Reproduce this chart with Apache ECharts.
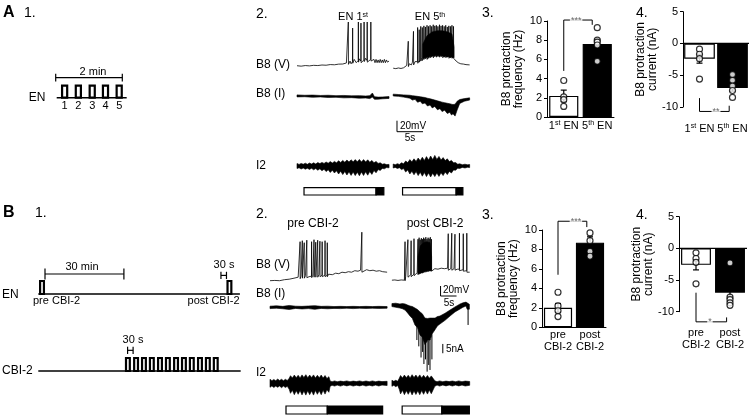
<!DOCTYPE html>
<html><head><meta charset="utf-8">
<script src="https://cdn.jsdelivr.net/npm/echarts@6/dist/echarts.min.js"></script>
<style>html,body{margin:0;padding:0;background:#fff}#c{width:750px;height:416px}</style>
</head><body><div id="c"></div>
<script>
const FONT = 'Liberation Sans, Arial, Helvetica, sans-serif';

// ===== Bar chart values =====
const catsEN  = ['1st EN', '5th EN'];
const catsCBI = ['pre\nCBI-2', 'post\nCBI-2'];
const ticksFreq = [0, 10, 2];
const ticksCurr = [-10, 5, 5];

const freqEN_mean = [2.2, 7.6];
const freqEN_sem  = [0.6, 0.5];
const freqEN_1st  = [3.8, 2.1, 1.8, 1.1];
const freqEN_5th  = [9.3, 8.0, 7.8, 7.5, 5.8];

const currEN_mean = [-2.4, -7.0];
const currEN_sem  = [0.7, 0.5];
const currEN_1st  = [-0.9, -1.7, -2.4, -5.6];
const currEN_5th  = [-4.9, -5.8, -6.7, -7.4, -8.5];

const freqCBI_mean = [2.0, 8.7];
const freqCBI_sem  = [0.45, 0.6];
const freqCBI_pre  = [3.6, 2.2, 1.7, 1.1];
const freqCBI_post = [9.7, 8.9, 7.8, 7.3];

const currCBI_mean = [-2.6, -7.0];
const currCBI_sem  = [0.8, 0.6];
const currCBI_pre  = [-0.7, -1.6, -2.2, -5.6];
const currCBI_post = [-2.3, -7.7, -8.1, -8.6, -9.0];

const sigFreqEN  = [[0, 4.8], [0, 10.1], [0.85, 10.1], [0.85, 9.6]];
const sigCurrEN  = [[0, -8.6], [0, -10.7], [0.9, -10.7], [0.9, -9.8]];
const sigFreqCBI = [[0, 5.4], [0, 10.9], [0.9, 10.9], [0.9, 10.3]];
const sigCurrCBI = [[0, -7.0], [0, -11.6], [0.9, -11.6], [0.9, -10.9]];
const sigTextFreqEN  = ['***', 0.37, 10.1];
const sigTextCurrEN  = ['**', 0.5, -10.7];
const sigTextFreqCBI = ['***', 0.56, 10.9];
const sigTextCurrCBI = ['*', 0.41, -11.6];

// ===== Traces A (time s, mV / nA / a.u.) =====
const avBase1 = [[0,0.5],[0.8,-0.3],[1.6,0.8],[2.4,0.2],[3.2,1.2],[4,0.8],[4.8,1.8],[5.6,1.4],[6.4,2.6],[7.2,2.2],[8,3.4],[8.8,3.6],[9.5,5.5],[10.2,9],[10.4,4],[11,12],[11.4,6],[12,13],[12.6,7],[13.2,14],[13.8,8],
  [14.4,12],[14.6,6],[14.8,12],[15,6],[15.2,12],[15.4,6],[15.6,11],[15.8,6],[16,12],[16.2,6],[16.4,11],[16.6,6],[16.8,12],[17,6],[17.2,11],[17.4,7],[17.7,9]];
const avSpk1 = [[9.87,6,80],[10.7,8,69],[11.8,10,80],[12.3,9,78],[12.9,11,80],[13.5,10,80],[14.2,12,80]];
const avBase2 = [[18.5,-4],[19,-4.8],[19.5,-3.6],[20,-4.5],[20.5,-3.2],[20.8,-2],[21.1,1],[21.6,4],[22,2],[22.2,7],[22.7,8],[23,10],[23.5,13],[24,15],[24.5,17],[25,18],[25.5,20],[26,21],[26.5,21],[27,20],[27.5,21],[28,20],[28.5,19],[29,19],[29.5,18],[30,18],[30.35,14],[30.6,9],[31,6],[31.5,4],[32,3.5],[32.5,2.5],[33.2,2]];
const avSpk2 = [[21.4,2,45],[22.4,5,63],[23.2,8,70],[23.5,10,66],[23.8,12,72],[24.1,13,70],[24.4,15,73],[24.7,16,71],[25,15,74],[25.3,17,72],[25.6,18,74],[25.9,19,72],[26.2,18,75],[26.5,20,73],[26.8,19,74],[27.1,20,72],[27.4,19,75],[27.7,20,73],[28,18,74],[28.3,19,72],[28.6,18,74],[28.9,19,71],[29.2,17,73],[29.5,18,72],[29.8,17,74],[30.1,17,72]];
const avBody2 = [[24.2,14,40],[25,16,55],[26,18,62],[27,19,64],[28,18,64],[29,17,62],[29.8,16,58],[30.2,15,35]];
const aiEnv1 = [[0,-0.5,0.6],[1.5,-0.4,0.4],[3,-0.7,0.5],[4.5,-0.5,0.3],[6,-0.8,0.4],[7.5,-0.7,0.2],[9,-1,0.3],[10.5,-0.9,0.1],[12,-1.2,0.2],[13.2,-1.1,0],[14,-1.4,0.2],[14.5,-0.6,1.6],[14.9,-1.8,-0.4],[15.6,-1.7,-0.6],[16.5,-1.5,-0.5],[17.7,-1.3,-0.3]];
const aiEnv2 = [[18.5,0,1],[19.5,-0.2,0.8],[20.5,-0.6,0.6],[21.7,-1.2,0.4],[22.2,-2.2,0.2],[22.7,-1.8,0],[23.2,-3.4,-0.2],[23.7,-2.8,-0.4],[24.1,-4.2,-0.6],[24.6,-3.8,-0.8],[25.1,-5.4,-1.2],[25.6,-4.8,-1.5],[26,-6.4,-1.8],[26.5,-5.6,-2.2],[27,-7.4,-2.6],[27.5,-6.8,-3],[27.9,-8.4,-3.3],[28.4,-7.6,-3.6],[28.9,-9.4,-3.9],[29.4,-8.8,-4.2],[29.7,-10.2,-4.4],[30,-9.6,-4.6],[30.4,-10.8,-4.4],[30.8,-7.5,-2.8],[31.3,-4,-1.9],[32.2,-2.8,-1.4],[33.2,-2.2,-1]];
const ai2Env1 = [[0,-2.5,2.5],[0.4,-1.8,1.6],[0.8,-3,2.6],[1.2,-2,1.8],[1.6,-3.2,2.8],[2,-2.2,1.7],[2.4,-3.4,3],[2.8,-2.3,2],[3.2,-3.8,3.2],[3.6,-2.5,2],[4,-4.2,3.4],[4.4,-2.8,2.4],[4.8,-4.8,3.6],[5.2,-3.2,2.6],[5.6,-5.6,4],[6,-3.8,2.8],[6.4,-6.5,4.4],[6.8,-4.2,3],[7.2,-7,4.6],[7.6,-4.8,3.2],[8,-8,5.2],[8.4,-5.2,3.6],[8.8,-8.6,5.6],[9.2,-5.5,3.8],[9.6,-9,6],[10,-5.8,4],[10.4,-9.4,6.2],[10.8,-6,4.2],[11.2,-9.6,6.4],[11.6,-6.2,4.2],[12,-9.8,6.6],[12.4,-6,4],[12.8,-9.5,6.4],[13.2,-5.8,4],[13.6,-9.2,6.2],[14,-5.5,3.8],[14.4,-8.4,5.6],[14.8,-4.6,3.2],[15.2,-6.8,4.6],[15.6,-3.6,2.6],[16,-4.4,3.2],[16.4,-2.4,1.8],[16.8,-2.8,2.2],[17.2,-1.6,1.4],[17.7,-1.8,1.6]];
const ai2Env2 = [[18.5,-2,2],[18.9,-1.4,1.3],[19.3,-2.4,2.3],[19.7,-1.8,1.6],[20.1,-3.6,3.2],[20.5,-2.6,2.2],[20.9,-6,5],[21.3,-4,3.4],[21.7,-8,6.4],[22.1,-5.2,4.2],[22.5,-8.8,7.2],[22.9,-5.6,4.6],[23.3,-9.6,8],[23.7,-6.2,5.2],[24.1,-10.2,8.8],[24.5,-6.6,5.6],[24.9,-10.6,9.4],[25.3,-7,6],[25.7,-11,10],[26.1,-7.2,6.4],[26.5,-10.6,10.6],[26.9,-7,6.6],[27.3,-10.4,9.6],[27.7,-6.8,6],[28.1,-9.6,8.4],[28.5,-6,5.4],[28.9,-8.6,7.2],[29.3,-5.4,4.4],[29.7,-7,5.6],[30.1,-4,3.2],[30.5,-4.2,3.4],[30.9,-2.2,1.8],[31.3,-2.4,2.2],[31.8,-1.4,1.3],[32.3,-2,1.8],[32.8,-1.3,1.2],[33.2,-1.6,1.5]];
const stimA = [[1.35,15.2,0],[15.2,16.7,1],[20.3,30.6,0],[30.6,31.9,1]];

// ===== Traces B =====
const bvBase1 = [[0,2],[1.5,2.5],[3,2],[4.5,4],[6,5],[7.5,7],[8.8,9],[9.7,11],[10.4,9],[11.1,12],[12.2,10],[13.4,13],[14.6,11],[15.3,14],[16,12],[16.7,14],[17.5,12],[18.3,15],[19.5,14],[20.5,17],[21.5,16],[22.5,19],[23.5,18],[24.5,20],[25.5,19],[26.5,22],[27.5,21],[28.3,23],[29.2,22],[30.2,24],[31.2,22],[32.2,23],[33.2,21],[34.2,22],[35.2,20],[36.6,19]];
const bvSpk1 = [[9.4,9,80],[10.1,10,82],[10.7,10,78],[11.5,11,83],[13,11,80],[13.75,12,84],[14.3,12,79],[14.9,12,83],[15.6,13,81],[16.3,13,80],[17.2,13,82],[17.9,13,78],[28.7,22,99]];
const bvBase2 = [[38.1,3],[39,3.5],[40,2.5],[41,3.5],[42,3],[42.4,10],[43,12],[44,14],[45,16],[46,18],[47,20],[48,22],[49,24],[50,25],[50.8,24],[51.5,26],[52.5,25],[53.5,27],[54.5,26],[55.5,27],[56.5,26],[57.5,26],[58.5,25],[59.5,25],[60.5,23],[61.5,22],[62,16],[62.4,19]];
const bvSpk2 = [[42.2,5,80],[43.1,12,84],[44.1,13,82],[45,15,86],[46.25,17,85],[46.6,18,88],[46.95,19,84],[47.3,20,87],[47.65,20,85],[48,21,88],[48.35,22,86],[48.7,22,89],[49.05,23,85],[49.4,23,88],[49.75,24,86],[50.1,24,89],[50.45,24,85],[55.7,26,96],[56.8,26,97],[57.8,26,95],[59.2,25,97],[60.4,24,96],[61.5,22,97]];
const bvBody2 = [[46.3,16,50],[47,18,72],[48,20,78],[49,22,80],[50,23,78],[50.5,22,50]];
const biEnv1 = [[0,-0.7,0.6],[2,-0.5,0.8],[4,-0.8,0.5],[6,-1.2,1],[8,-0.6,0.6],[10,-0.9,0.5],[12,-0.7,0.7],[14,-1.1,0.9],[16,-0.6,0.5],[18,-0.8,0.6],[20,-0.6,0.4],[22,-0.7,0.5],[24,-0.5,0.4],[26,-0.7,0.5],[28,-0.5,0.4],[30,-0.6,0.5],[32,-0.5,0.4],[34,-0.6,0.5],[36.6,-0.5,0.4]];
const biEnv2 = [[38.1,0.4,2],[39.3,0,2.2],[40.6,-0.4,1.8],[41.4,-0.8,2],[42.2,-1.5,1.8],[43,-3,1.2],[43.75,-4.7,0.7],[44.5,-6,0.4],[45.3,-9.5,-0.4],[46.1,-11,-1.2],[46.9,-15,-2.5],[47.6,-16,-3.5],[48.4,-20,-5.8],[49.2,-18,-6],[50,-17.6,-5.8],[50.8,-14,-5.8],[51.6,-12,-5.8],[52.3,-10,-5],[53.1,-9,-4.7],[54.7,-7,-3.2],[56.25,-4.7,-1.5],[57.8,-2.5,0.2],[59.4,-0.9,1.8],[60.3,0,2.4],[61.25,0.7,2.8],[61.6,-1,2.4],[62.3,-1,1.6]];
const biSpk2 = [[45.9,-9,-17.6],[46.5,-12,-21],[47.2,-14,-27],[47.7,-15,-24],[48.1,-17,-30.5],[48.6,-18,-28],[49.1,-18,-34.6],[49.6,-18,-31],[50,-17,-33.7],[50.6,-15,-28],[61.9,0,-9.5]];
const bi2Env1 = [[0,-4,4],[0.6,-2.6,2.6],[1.2,-4.2,3.8],[1.8,-2.8,2.6],[2.4,-4,4.2],[3,-2.6,2.8],[3.6,-4.4,4],[4.2,-2.8,2.6],[4.8,-4.2,4],[5.4,-3,2.8],[6,-6,5],[6.4,-10,7.6],[7,-7,5.4],[7.6,-11.4,8.2],[8.2,-7.4,5.6],[8.8,-11,8],[9.4,-7.2,5.4],[10,-11.6,8.4],[10.6,-7.6,5.8],[11.2,-11.8,8.6],[11.8,-7.4,5.6],[12.4,-11.4,8.2],[13,-7.6,5.8],[13.6,-11.8,8.4],[14.2,-7.2,5.4],[14.8,-11,8],[15.4,-7.4,5.6],[16,-11.4,8.2],[16.6,-7,5.2],[17.2,-10.8,7.8],[17.8,-6.4,4.8],[18.4,-9,6.6],[18.8,-3,2.4],[19.4,-2,1.6],[20.2,-2.8,2.4],[21,-1.8,1.6],[22,-2.8,2.2],[23,-1.8,1.7],[24,-2.6,2.4],[25,-1.8,1.6],[26,-2.8,2.2],[27,-1.9,1.7],[28,-2.6,2.4],[29,-1.8,1.6],[30,-2.8,2.3],[31,-1.9,1.6],[32,-2.7,2.4],[33,-1.8,1.6],[34,-2.7,2.2],[35,-1.8,1.7],[36.6,-2.2,2]];
const bi2Env2 = [[38.1,-3,3],[38.7,-2,2],[39.3,-3.4,3],[39.9,-2.2,2],[40.4,-6,5],[40.8,-10.6,7.8],[41.4,-7,5.4],[42,-11.4,8.2],[42.6,-7.4,5.6],[43.2,-11,8],[43.8,-7.2,5.4],[44.4,-11.6,8.6],[45,-7.6,5.8],[45.6,-11.2,8.2],[46.2,-7.4,5.6],[46.8,-11.4,8.4],[47.4,-7.2,5.4],[48,-11,8],[48.6,-7,5.2],[49.2,-10.8,7.8],[49.8,-6.8,5],[50.4,-10.4,7.4],[51,-6.4,4.8],[51.5,-3,2.5],[52.2,-1.8,1.6],[53,-2.8,2.4],[54,-1.8,1.6],[55,-2.6,2.2],[56,-1.8,1.7],[57,-2.7,2.3],[58,-1.8,1.6],[59,-2.6,2.4],[60,-1.8,1.6],[61,-2.7,2.2],[62.4,-2,1.8]];
const stimB = [[5,17.9,0],[17.9,35.2,1],[41.3,53.7,0],[53.7,62.3,1]];

// scale bars: [start time, mV or nA start, span]
const scaleA  = [19.23, 20, 5];
const scaleB  = [53.3, 20, 5];
const scaleBnA = [54, -19.7, 5];

// ===== Protocol schematics =====
const a1Pulses = [11.5, 36.2, 61.2, 85.1, 109.8];   // s
const a1Labels = ['1', '2', '3', '4', '5'];
const a1Dur = 9.2;
const a1Base = [[1.8, 0], [127.9, 0]];
const a1Bracket = [[0, 120, 1.67, 0.33]];
const b1EN = [-1.86, 69.4];                           // min
const b1CBI = [30.8, 33.9, 36.9, 39.9, 43.0, 46.0, 49.1, 52.1, 55.1, 58.2, 61.2, 64.2];
const b1Dur = 1.45;
const b1BaseEN = [[-2.55, 0], [74.1, 0]];
const b1BaseCBI = [[-2.55, 0], [74.4, 0]];
const b1BracketEN = [[0, 30, 1.54, 0.42], [66.9, 69, 1.43, 0.28]];
const b1BracketCBI = [[31.4, 33.5, 1.59, 0.28]];

// ===== builders =====
const grids = [], xAxes = [], yAxes = [], series = [];
const gridBase = {containLabel: false, outerBoundsMode: 'none'};

function mapGrid(left, top, width, height, x0px, xs, y0px, ys) {
  const g = grids.length;
  grids.push(Object.assign({left, top, width, height}, gridBase));
  const x = xAxes.length, y = yAxes.length;
  xAxes.push({gridIndex: g, type: 'value', show: false, min: (left - x0px) / xs, max: (left + width - x0px) / xs});
  yAxes.push({gridIndex: g, type: 'value', show: false, min: (y0px - top - height) / ys, max: (y0px - top) / ys});
  return {x, y};
}
function lineS(ax, data, w) {
  series.push({type: 'line', xAxisIndex: ax.x, yAxisIndex: ax.y, data, symbol: 'none', showSymbol: false, clip: false, silent: true,
    lineStyle: {color: '#000', width: w}});
}
function spiky(base, spikes) {
  const pts = base.map(p => [p[0], p[1]]);
  spikes.forEach(s => { pts.push([s[0] - 0.03, s[1]], [s[0], s[2]], [s[0] + 0.03, s[1] - 3]); });
  return pts.sort((a, b) => a[0] - b[0]);
}
function envelope(ax, env) {
  series.push({type: 'custom', xAxisIndex: ax.x, yAxisIndex: ax.y, data: [[env[0][0], env[0][1]]], clip: false, silent: true,
    renderItem: (p, api) => {
      const up = env.map(d => api.coord([d[0], d[2]]));
      const dn = env.slice().reverse().map(d => api.coord([d[0], d[1]]));
      return {type: 'polygon', shape: {points: up.concat(dn)}, style: {fill: '#000', stroke: '#000', lineWidth: 0.6}};
    }});
}
function segs(ax, items, w) {
  series.push({type: 'custom', xAxisIndex: ax.x, yAxisIndex: ax.y, data: items, clip: false, silent: true,
    renderItem: (p, api) => {
      const a = api.coord([api.value(0), api.value(1)]), b = api.coord([api.value(0), api.value(2)]);
      return {type: 'line', shape: {x1: a[0], y1: a[1], x2: b[0], y2: b[1]}, style: {stroke: '#000', lineWidth: w}};
    }});
}
function stim(ax, items) {
  series.push({type: 'custom', xAxisIndex: ax.x, yAxisIndex: ax.y, data: items, clip: false, silent: true,
    renderItem: (p, api) => {
      const a = api.coord([api.value(0), 1]), b = api.coord([api.value(1), 0]);
      return {type: 'rect', shape: {x: a[0], y: a[1], width: b[0] - a[0], height: b[1] - a[1]},
        style: {fill: api.value(2) ? '#000' : '#fff', stroke: '#000', lineWidth: 1.2}};
    }});
}
function pulses(ax, onsets, dur, labels) {
  series.push({type: 'custom', xAxisIndex: ax.x, yAxisIndex: ax.y, data: onsets.map((t, i) => [t, i]), clip: false, silent: true,
    renderItem: (p, api) => {
      const t = api.value(0);
      const a = api.coord([t, 1]), b = api.coord([t + dur, 0]);
      const ch = [{type: 'rect', shape: {x: a[0], y: a[1], width: b[0] - a[0], height: b[1] - a[1]},
        style: {fill: '#fff', stroke: '#000', lineWidth: 2.2}}];
      if (labels) ch.push({type: 'text', x: (a[0] + b[0]) / 2, y: b[1] + 8.5,
        style: {text: labels[p.dataIndex], fontSize: 11, fontFamily: FONT, fill: '#000', align: 'center', verticalAlign: 'middle'}});
      return {type: 'group', children: ch};
    }});
}
function brackets(ax, items) {
  series.push({type: 'custom', xAxisIndex: ax.x, yAxisIndex: ax.y, data: items, clip: false, silent: true,
    renderItem: (p, api) => {
      const t1 = api.value(0), t2 = api.value(1), y = api.value(2), h = api.value(3);
      const a = api.coord([t1, y]), b = api.coord([t2, y]);
      const a1 = api.coord([t1, y + h]), a2 = api.coord([t1, y - h]);
      const b1 = api.coord([t2, y + h]), b2 = api.coord([t2, y - h]);
      const st = {stroke: '#000', lineWidth: 1.2};
      return {type: 'group', children: [
        {type: 'line', shape: {x1: a[0], y1: a[1], x2: b[0], y2: b[1]}, style: st},
        {type: 'line', shape: {x1: a1[0], y1: a1[1], x2: a2[0], y2: a2[1]}, style: st},
        {type: 'line', shape: {x1: b1[0], y1: b1[1], x2: b2[0], y2: b2[1]}, style: st}]};
    }});
}
function barChart(o) {
  const g = grids.length;
  grids.push(Object.assign({left: o.box[0], top: o.box[1], width: o.box[2], height: o.box[3]}, gridBase));
  const xc = xAxes.length;
  xAxes.push({gridIndex: g, type: 'category', data: o.cats,
    axisLine: {show: o.baseLine, onZero: false, lineStyle: {color: '#000', width: 1}},
    axisTick: {show: false},
    axisLabel: {color: '#000', fontSize: 11, fontFamily: FONT, margin: o.labelMargin, lineHeight: 12, interval: 0,
      formatter: v => v.replace(/^(\d)(st|th)/, '$1{s|$2}'),
      rich: {s: {fontSize: 7, fontFamily: FONT, color: '#000', verticalAlign: 'top', lineHeight: 8}}}});
  const xv = xAxes.length;
  xAxes.push({gridIndex: g, type: 'value', min: -0.5, max: 1.5, show: false});
  const y = yAxes.length;
  yAxes.push({gridIndex: g, type: 'value', min: o.ticks[0], max: o.ticks[1], interval: o.ticks[2],
    axisLine: {show: true, onZero: false, lineStyle: {color: '#000', width: 1}},
    axisTick: {show: true, length: 3, lineStyle: {color: '#000'}},
    axisLabel: {color: '#000', fontSize: 11, fontFamily: FONT, margin: 5},
    splitLine: {show: false},
    name: o.name, nameLocation: 'middle', nameGap: o.nameGap,
    nameTextStyle: {color: '#000', fontSize: 12, fontFamily: FONT, lineHeight: 12}});
  series.push({type: 'bar', xAxisIndex: xc, yAxisIndex: y, barWidth: o.barWidth, silent: true, z: 2,
    data: o.mean.map((m, i) => ({value: m, itemStyle: {color: i ? '#000' : '#fff', borderColor: '#000', borderWidth: 1.2}}))});
  if (o.zeroLine) series.push({type: 'line', xAxisIndex: xv, yAxisIndex: y, data: [[-0.5, 0], [1.5, 0]], symbol: 'none', silent: true, z: 3,
    lineStyle: {color: '#000', width: 1.2}});
  series.push({type: 'custom', xAxisIndex: xv, yAxisIndex: y, silent: true, z: 3,
    data: o.mean.map((m, i) => [i, m - o.sem[i], m + o.sem[i]]),
    renderItem: (p, api) => {
      const lo = api.coord([api.value(0), api.value(1)]), hi = api.coord([api.value(0), api.value(2)]);
      const st = {stroke: '#000', lineWidth: 1.2};
      return {type: 'group', children: [
        {type: 'line', shape: {x1: lo[0], y1: lo[1], x2: hi[0], y2: hi[1]}, style: st},
        {type: 'line', shape: {x1: lo[0] - 3, y1: lo[1], x2: lo[0] + 3, y2: lo[1]}, style: st},
        {type: 'line', shape: {x1: hi[0] - 3, y1: hi[1], x2: hi[0] + 3, y2: hi[1]}, style: st}]};
    }});
  const pts = [];
  o.points.forEach((arr, i) => arr.forEach(v => pts.push([i, v])));
  series.push({type: 'scatter', xAxisIndex: xv, yAxisIndex: y, data: pts, symbol: 'circle', symbolSize: 6, z: 4, silent: true,
    itemStyle: {color: '#fff', borderColor: '#000', borderWidth: 1.2}});
  series.push({type: 'line', xAxisIndex: xv, yAxisIndex: y, data: o.sig, symbol: 'none', clip: false, z: 5, silent: true,
    lineStyle: {color: '#000', width: 1}});
  series.push({type: 'scatter', xAxisIndex: xv, yAxisIndex: y, data: [[o.sigText[1], o.sigText[2]]], symbolSize: 0, clip: false, z: 6, silent: true,
    label: {show: true, position: 'inside', formatter: o.sigText[0], color: '#444', fontSize: 9, fontFamily: FONT, backgroundColor: '#fff', padding: [0, 1]}});
}

// ===== bar charts =====
barChart({box: [547, 21, 67, 96], cats: catsEN, ticks: ticksFreq, mean: freqEN_mean, sem: freqEN_sem, points: [freqEN_1st, freqEN_5th],
  sig: sigFreqEN, sigText: sigTextFreqEN, name: 'B8 protraction\nfrequency (Hz)', nameGap: 22, barWidth: '87%', baseLine: true, labelMargin: 3});
barChart({box: [683, 11.7, 66, 95.3], cats: catsEN, ticks: ticksCurr, mean: currEN_mean, sem: currEN_sem, points: [currEN_1st, currEN_5th],
  sig: sigCurrEN, sigText: sigTextCurrEN, name: 'B8 protraction\ncurrent (nA)', nameGap: 24, barWidth: '93%', baseLine: false, zeroLine: true, labelMargin: 16});
barChart({box: [542, 230, 64, 97.3], cats: catsCBI, ticks: ticksFreq, mean: freqCBI_mean, sem: freqCBI_sem, points: [freqCBI_pre, freqCBI_post],
  sig: sigFreqCBI, sigText: sigTextFreqCBI, name: 'B8 protraction\nfrequency (Hz)', nameGap: 22, barWidth: '88%', baseLine: true, labelMargin: 2});
barChart({box: [679, 216.7, 68, 95], cats: catsCBI, ticks: ticksCurr, mean: currCBI_mean, sem: currCBI_sem, points: [currCBI_pre, currCBI_post],
  sig: sigCurrCBI, sigText: sigTextCurrCBI, name: 'B8 protraction\ncurrent (nA)', nameGap: 21, barWidth: '88%', baseLine: false, zeroLine: true, labelMargin: 15});

// ===== traces A =====
const gAV  = mapGrid(297, 14, 175, 60, 297, 5.2, 66, 0.55);
const gAI  = mapGrid(297, 86, 175, 34, 297, 5.2, 96, 1.86);
const gAsc = mapGrid(297, 115, 175, 20, 297, 5.2, 131.7, 0.55);
const gAI2 = mapGrid(297, 150, 175, 32, 297, 5.2, 166, 1);
const gAst = mapGrid(297, 185, 175, 12, 297, 5.2, 195, 7.3);
lineS(gAV, spiky(avBase1, avSpk1), 0.8);
lineS(gAV, spiky(avBase2, avSpk2), 0.8);
envelope(gAV, avBody2);
envelope(gAI, aiEnv1);
envelope(gAI, aiEnv2);
envelope(gAI2, ai2Env1);
envelope(gAI2, ai2Env2);
stim(gAst, stimA);
lineS(gAsc, [[scaleA[0], scaleA[1]], [scaleA[0], 0], [scaleA[0] + scaleA[2], 0]], 1);

// ===== traces B =====
const gBV  = mapGrid(270, 228, 202, 60, 270, 3.2, 281.7, 0.5);
const gBsc = mapGrid(270, 284, 202, 14, 270, 3.2, 296, 0.5);
const gBI  = mapGrid(270, 296, 202, 80, 270, 3.2, 307.3, 1.86);
const gBI2 = mapGrid(270, 366, 202, 34, 270, 3.2, 383.3, 1);
const gBst = mapGrid(270, 403, 202, 14, 270, 3.2, 414, 8);
lineS(gBV, spiky(bvBase1, bvSpk1), 0.8);
lineS(gBV, spiky(bvBase2, bvSpk2), 0.8);
envelope(gBV, bvBody2);
envelope(gBI, biEnv1);
envelope(gBI, biEnv2);
segs(gBI, biSpk2, 1);
envelope(gBI2, bi2Env1);
envelope(gBI2, bi2Env2);
stim(gBst, stimB);
lineS(gBsc, [[scaleB[0], scaleB[1]], [scaleB[0], 0], [scaleB[0] + scaleB[2], 0]], 1);
lineS(gBI, [[scaleBnA[0], scaleBnA[1]], [scaleBnA[0], scaleBnA[1] - scaleBnA[2]]], 1);

// ===== schematics =====
const gA1 = mapGrid(40, 60, 100, 45, 55.7, 0.555, 97.7, 12);
lineS(gA1, a1Base, 1.5);
pulses(gA1, a1Pulses, a1Dur, a1Labels);
brackets(gA1, a1Bracket);
const gB1E = mapGrid(30, 255, 215, 45, 45, 2.63, 294, 13);
const gB1C = mapGrid(30, 335, 215, 40, 45, 2.63, 371, 13);
lineS(gB1E, b1BaseEN, 1.5);
lineS(gB1C, b1BaseCBI, 1.5);
pulses(gB1E, b1EN, b1Dur);
pulses(gB1C, b1CBI, b1Dur);
brackets(gB1E, b1BracketEN);
brackets(gB1C, b1BracketCBI);

// ===== texts =====
const sup = {s: {fontSize: 7, fontFamily: FONT, fill: '#000', color: '#000', verticalAlign: 'top'}};
function T(text, x, y, size, align, extra) {
  return {type: 'text', x, y, silent: true, z: 10,
    style: Object.assign({text, fontSize: size, fontFamily: FONT, fill: '#000', align: align || 'left', verticalAlign: 'middle'}, extra || {})};
}
const graphics = [
  T('A', 3, 13, 16, 'left', {fontWeight: 'bold'}), T('1.', 24, 13, 14), T('2.', 256, 14, 14), T('3.', 482, 13, 14), T('4.', 636, 13, 14),
  T('EN 1{s|st}', 353, 17, 11, 'center', {rich: sup}), T('EN 5{s|th}', 430, 17, 11, 'center', {rich: sup}),
  T('B8 (V)', 256, 65, 12), T('B8 (I)', 256, 94, 12), T('I2', 256, 166, 12),
  T('20mV', 400, 126, 10), T('5s', 410, 138.5, 10, 'center'),
  T('2 min', 93, 71.5, 11, 'center'), T('EN', 37, 97.5, 12, 'center'),
  T('B', 3, 213, 16, 'left', {fontWeight: 'bold'}), T('1.', 35, 213, 14), T('2.', 256, 214, 14), T('3.', 482, 215, 14), T('4.', 636, 215, 14),
  T('pre CBI-2', 313, 224, 12, 'center'), T('post CBI-2', 435, 224, 12, 'center'),
  T('B8 (V)', 256, 265, 12), T('B8 (I)', 256, 294, 12), T('I2', 256, 373, 12),
  T('20mV', 443, 290, 10), T('5s', 449, 303, 10, 'center'), T('5nA', 446, 349, 10),
  T('30 min', 82, 266.5, 11, 'center'), T('EN', 2, 295, 12), T('pre CBI-2', 33, 301, 11), T('post CBI-2', 239.5, 301, 11, 'right'),
  T('30 s', 224, 265, 11, 'center'), T('30 s', 133, 340, 11, 'center'), T('CBI-2', 2, 371, 12)
];

const chart = echarts.init(document.getElementById('c'), null, {renderer: 'canvas'});
chart.setOption({
  animation: false,
  backgroundColor: '#fff',
  textStyle: {fontFamily: FONT},
  grid: grids, xAxis: xAxes, yAxis: yAxes, series: series,
  graphic: {elements: graphics}
});
</script></body></html>
